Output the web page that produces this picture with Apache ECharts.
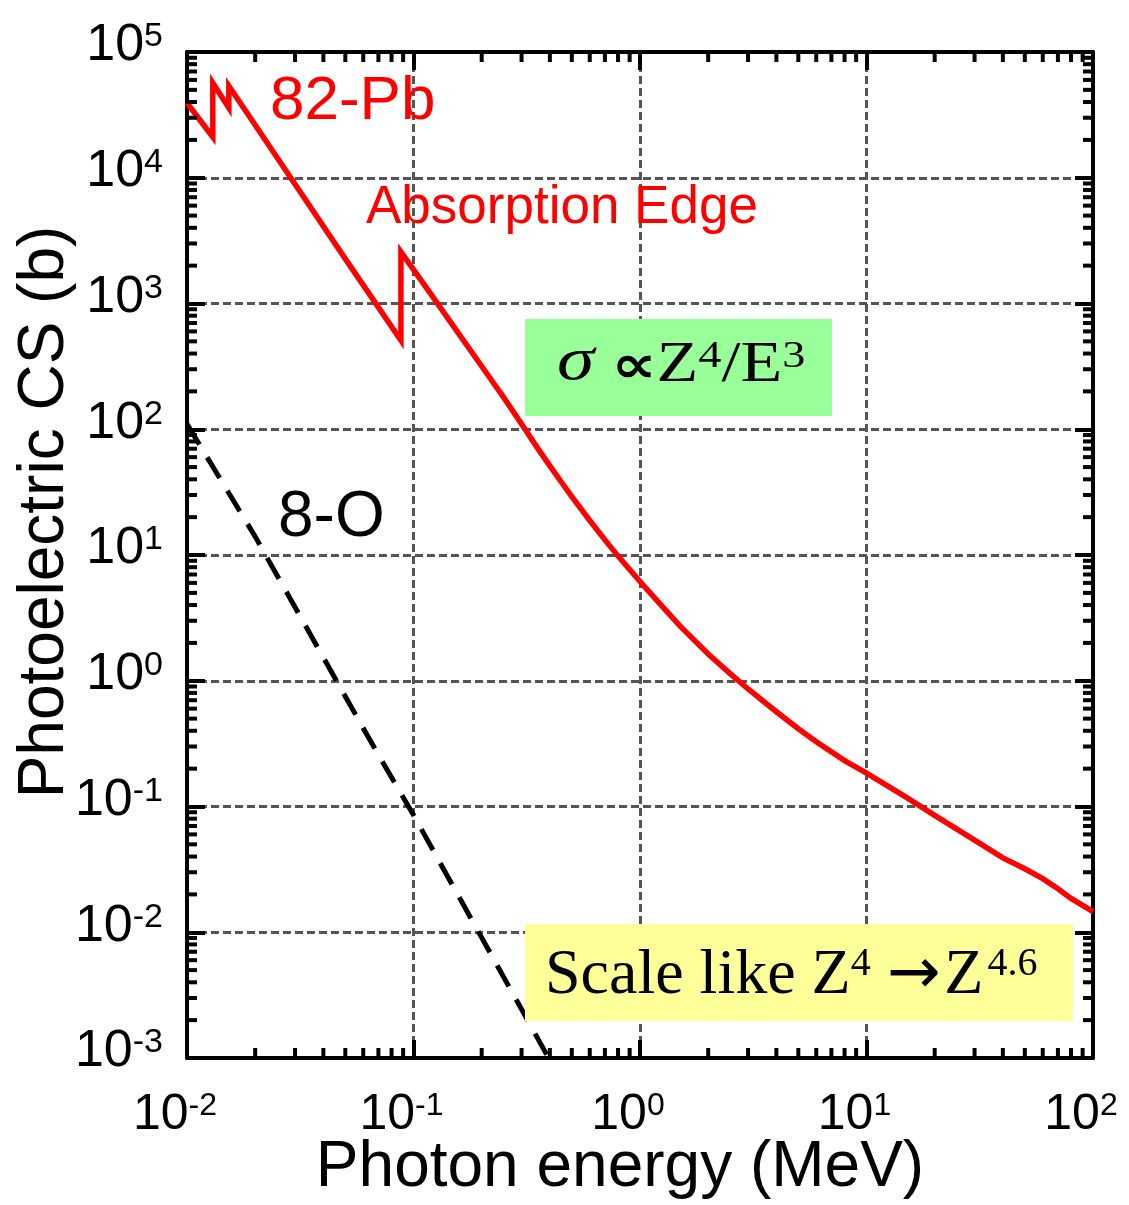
<!DOCTYPE html>
<html><head><meta charset="utf-8">
<script src="https://cdn.jsdelivr.net/npm/echarts@6/dist/echarts.min.js"></script>
<style>html,body{margin:0;padding:0;background:#fff}#c{width:1129px;height:1205px}</style>
</head><body><div id="c"></div>
<script>
// ---------- data ----------
const pbEnergy = [0.0100,0.0130,0.0130,0.0153,0.0153,0.020,0.030,0.050,0.0880,0.0880,
                  0.100,0.120,0.150,0.200,0.250,0.300,0.350,0.400,0.450,0.500,
                  0.600,0.700,0.800,1.00,1.20,1.50,2.00,2.50,3.00,4.00,
                  5.00,6.00,8.00,10.0,15.0,20.0,30.0,40.0,50.0,60.0,
                  70.0,80.0,100];
const pbCS = [39300,21100,56700,35900,53700,26300,8890,2265,510,2570,
              1860,1170,660,317,179,110,72.4,51.2,37.9,29.1,
              18.8,13.2,9.8,6.15,4.26,2.73,1.63,1.14,0.86,0.567,
              0.415,0.327,0.232,0.184,0.118,0.085,0.054,0.039,0.032,0.0267,
              0.0222,0.0186,0.0146];
const oEnergy = [0.0100,0.0200,0.0300,0.0500,0.0700,0.100,0.150,0.200,0.300,0.390];
const oCS = [110,14.0,3.84,0.75,0.257,0.0855,0.023,0.00906,0.00244,0.00104];

const xTickExp = ['-2','-1','0','1','2'];
const yTickExp = ['-3','-2','-1','0','1','2','3','4','5'];
const X_MIN = 0.01, X_MAX = 100, Y_MIN = 0.001, Y_MAX = 100000;
const minorMult = [2,3,4,5,6,7,8,9];

// ---------- styling ----------
const SANS = "'Liberation Sans', Arial, Helvetica, sans-serif";
const SERIF = "'Liberation Serif', 'Times New Roman', Times, serif";

const xMinor = [];
for (let d = -2; d < 2; d++) minorMult.forEach(m => xMinor.push([m * Math.pow(10, d), Y_MIN]));
const yMinor = [];
for (let d = -3; d < 5; d++) minorMult.forEach(m => yMinor.push([X_MIN, m * Math.pow(10, d)]));

function fmtX(v){ const e = Math.round(Math.log10(v)); return '{b|10}{s|' + xTickExp[e + 2] + '}'; }
function fmtY(v){ const e = Math.round(Math.log10(v)); return '{b|10}{s|' + yTickExp[e + 3] + '}'; }

const richX = {
  b: {fontSize: 50, fontFamily: SANS, color: '#000', lineHeight: 50, padding: [4,0,0,0], verticalAlign: 'bottom'},
  s: {fontSize: 32, fontFamily: SANS, color: '#000', lineHeight: 32, verticalAlign: 'top'}
};
const richY = {
  b: {fontSize: 52, fontFamily: SANS, color: '#000', lineHeight: 52, padding: [8,0,0,0], verticalAlign: 'bottom'},
  s: {fontSize: 34, fontFamily: SANS, color: '#000', lineHeight: 34, verticalAlign: 'top'}
};

const frameLine = {show: true, onZero: false, lineStyle: {color: '#000', width: 4}};
const majorTick = {show: true, inside: true, length: 18, lineStyle: {color: '#000', width: 4}};
const gridLine = {show: true, lineStyle: {color: '#555', width: 3, type: [8,4]}};

function minorRender(isY){
  return function(params, api){
    const len = 10;
    const st = {stroke: '#000', lineWidth: 4};
    if (isY) {
      const v = api.value(1);
      const a = api.coord([X_MIN, v]), b = api.coord([X_MAX, v]);
      return {type: 'group', children: [
        {type: 'line', shape: {x1: a[0], y1: a[1], x2: a[0] + len, y2: a[1]}, style: st},
        {type: 'line', shape: {x1: b[0] - len, y1: b[1], x2: b[0], y2: b[1]}, style: st}
      ]};
    } else {
      const v = api.value(0);
      const a = api.coord([v, Y_MIN]), b = api.coord([v, Y_MAX]);
      return {type: 'group', children: [
        {type: 'line', shape: {x1: a[0], y1: a[1], x2: a[0], y2: a[1] - len}, style: st},
        {type: 'line', shape: {x1: b[0], y1: b[1], x2: b[0], y2: b[1] + len}, style: st}
      ]};
    }
  };
}

const chart = echarts.init(document.getElementById('c'), null, {renderer: 'canvas'});
const option = {
  animation: false,
  backgroundColor: '#ffffff',
  grid: {left: 187, top: 52, width: 906, height: 1006, containLabel: false, outerBoundsMode: 'none'},
  xAxis: [
    {type: 'log', logBase: 10, min: X_MIN, max: X_MAX, splitNumber: 4, position: 'bottom',
     name: 'Photon energy (MeV)', nameLocation: 'middle', nameGap: 78, nameMoveOverlap: false,
     nameTextStyle: {fontSize: 64, fontFamily: SANS, color: '#000', padding: [0,40,0,0]},
     axisLine: frameLine, axisTick: majorTick,
     axisLabel: {show: true, margin: 32, formatter: fmtX, rich: richX, padding: [0,24,0,0]},
     splitLine: gridLine, minorTick: {show: false}},
    {type: 'log', logBase: 10, min: X_MIN, max: X_MAX, splitNumber: 4, position: 'top',
     axisLine: frameLine, axisTick: majorTick, axisLabel: {show: false}, splitLine: {show: false}}
  ],
  yAxis: [
    {type: 'log', logBase: 10, min: Y_MIN, max: Y_MAX, splitNumber: 8, position: 'left',
     name: 'Photoelectric CS (b)', nameLocation: 'middle', nameGap: 110, nameMoveOverlap: false,
     nameTextStyle: {fontSize: 64, fontFamily: SANS, color: '#000', padding: [0,0,0,86]},
     axisLine: frameLine, axisTick: majorTick,
     axisLabel: {show: true, margin: 24, formatter: fmtY, rich: richY, padding: [0,0,12,0]},
     splitLine: gridLine, minorTick: {show: false}},
    {type: 'log', logBase: 10, min: Y_MIN, max: Y_MAX, splitNumber: 8, position: 'right',
     axisLine: frameLine, axisTick: majorTick, axisLabel: {show: false}, splitLine: {show: false}}
  ],
  series: [
    {name: '82-Pb', type: 'line', data: pbEnergy.map((e, i) => [e, pbCS[i]]),
     showSymbol: false, symbol: 'none', smooth: false, z: 3,
     lineStyle: {color: '#ff0000', width: 5.5, join: 'miter'}},
    {name: '8-O', type: 'line', data: oEnergy.map((e, i) => [e, oCS[i]]),
     showSymbol: false, symbol: 'none', smooth: false, z: 3,
     lineStyle: {color: '#000000', width: 5, type: [24,15]}},
    {type: 'custom', renderItem: minorRender(false), data: xMinor, encode: {x: 0, y: 1}, clip: false, silent: true, z: 10},
    {type: 'custom', renderItem: minorRender(true), data: yMinor, encode: {x: 0, y: 1}, clip: false, silent: true, z: 10}
  ],
  graphic: [
    {type: 'text', x: 270, y: 102, z: 60,
     style: {text: '82-Pb', fill: '#ff0000', font: '62px ' + SANS, align: 'left', verticalAlign: 'middle', textAlign: 'left', textVerticalAlign: 'middle'}},
    {type: 'text', x: 366, y: 208, z: 60,
     style: {text: 'Absorption Edge', fill: '#ff0000', font: '53px ' + SANS, align: 'left', verticalAlign: 'middle', textAlign: 'left', textVerticalAlign: 'middle'}},
    {type: 'text', x: 278, y: 518, z: 60,
     style: {text: '8-O', fill: '#000', font: '64px ' + SANS, align: 'left', verticalAlign: 'middle', textAlign: 'left', textVerticalAlign: 'middle'}},
    {type: 'rect', z: 50, shape: {x: 525, y: 319, width: 307, height: 97}, style: {fill: '#99ff99'}},
    {type: 'text', x: 557, y: 338, z: 60, scaleX: 1.22,
     style: {text: '{sg|σ}{b| }{pr|∝}{b|Z}{s|4}{b|/E}{s|3}', align: 'left', verticalAlign: 'top', textAlign: 'left', textVerticalAlign: 'top',
       rich: {
         sg: {fontSize: 62, fontFamily: SERIF, fontStyle: 'italic', color: '#000', lineHeight: 56, padding: [8,0,0,0], verticalAlign: 'bottom'},
         pr: {fontSize: 52, fontFamily: "'DejaVu Sans', sans-serif", fontWeight: 'bold', color: '#000', lineHeight: 56, padding: [8,0,0,0], verticalAlign: 'bottom'},
         b: {fontSize: 56, fontFamily: SERIF, color: '#000', lineHeight: 56, padding: [8,0,0,0], verticalAlign: 'bottom'},
         s: {fontSize: 38, fontFamily: SERIF, color: '#000', lineHeight: 38, verticalAlign: 'top'}
       }}},
    {type: 'rect', z: 50, shape: {x: 525, y: 924, width: 548, height: 97}, style: {fill: '#ffff99'}},
    {type: 'text', x: 545, y: 944, z: 60,
     style: {text: '{b|Scale like Z}{s|4}{b| }{ar|→}{z|Z}{s|4.6}', align: 'left', verticalAlign: 'top', textAlign: 'left', textVerticalAlign: 'top',
       rich: {
         b: {fontSize: 64, fontFamily: SERIF, color: '#000', lineHeight: 64, verticalAlign: 'bottom'},
         z: {fontSize: 64, fontFamily: SERIF, color: '#000', lineHeight: 64, verticalAlign: 'bottom', padding: [0,4,0,4]},
         ar: {fontSize: 64, fontFamily: "'DejaVu Sans', sans-serif", color: '#000', lineHeight: 64, verticalAlign: 'bottom'},
         s: {fontSize: 40, fontFamily: SERIF, color: '#000', lineHeight: 40, verticalAlign: 'top'}
       }}}
  ]
};
chart.setOption(option);
</script>
</body></html>
